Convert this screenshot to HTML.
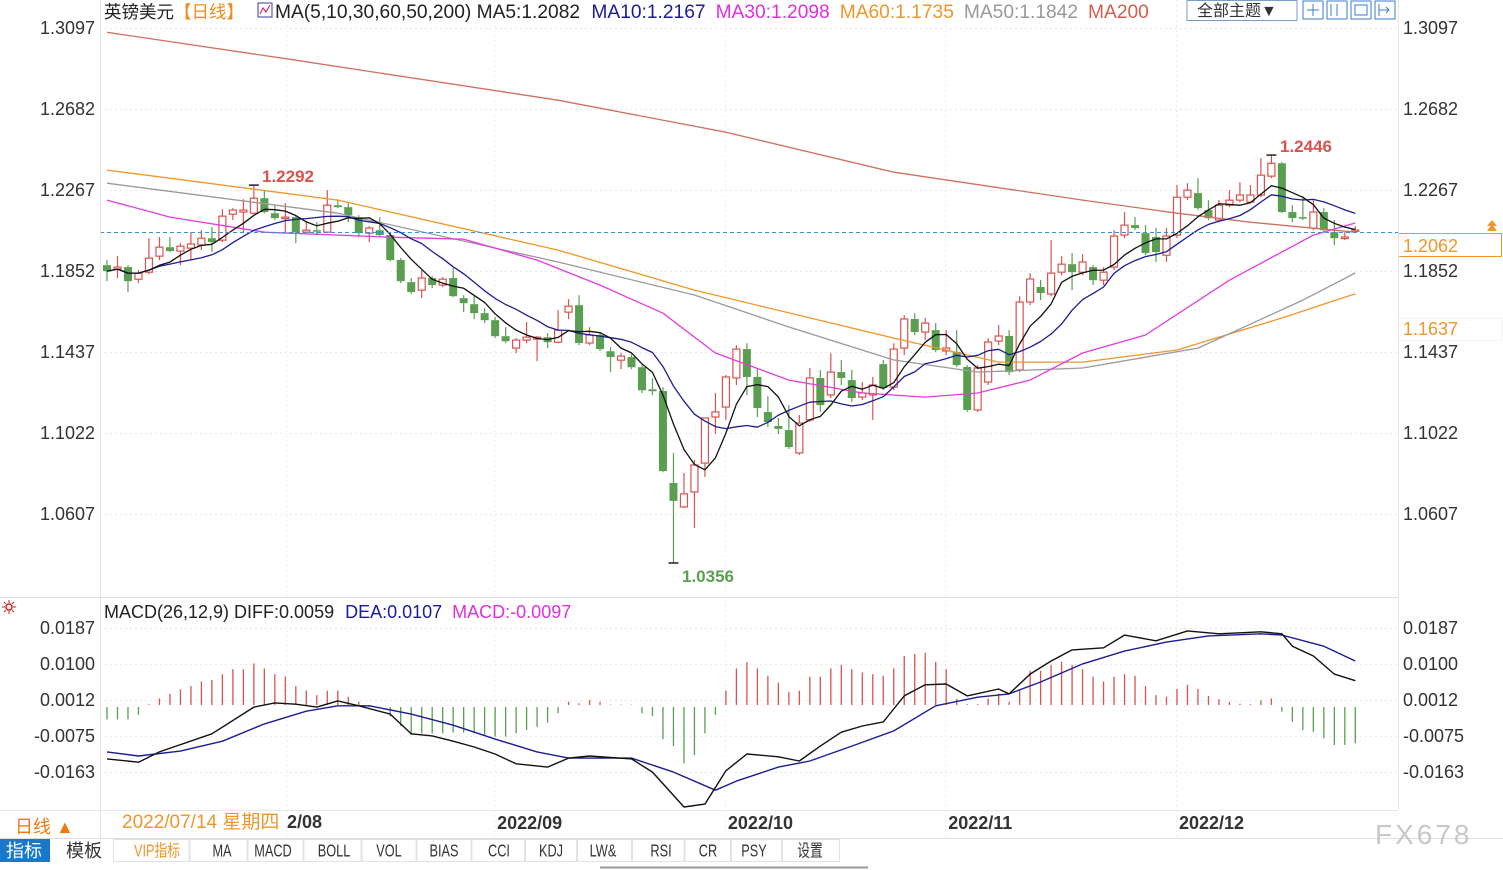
<!DOCTYPE html>
<html><head><meta charset="utf-8">
<style>
html,body{margin:0;padding:0;background:#fff;width:1503px;height:870px;overflow:hidden;}
body{font-family:"Liberation Sans","Noto Sans CJK SC",sans-serif;}
svg text{font-family:"Liberation Sans","Noto Sans CJK SC",sans-serif;}
</style></head>
<body>
<svg id="chart" width="1503" height="870" viewBox="0 0 1503 870" xmlns="http://www.w3.org/2000/svg">
  <g id="grid"></g>
  <g id="candles"></g>
  <g id="malines"></g>
  <g id="macd"></g>
  <g id="axes"></g>

  <!-- header -->
  <text x="104" y="18" font-size="17.5" fill="#222">英镑美元<tspan fill="#f08a1c">【日线】</tspan></text>
  <rect x="258" y="3" width="14" height="14" fill="#fff" stroke="#3a3aa0"/>
  <polyline points="260,14 263,8 266,12 270,5" fill="none" stroke="#d0306a" stroke-width="1.2"/>
  <text x="275" y="18" font-size="19.2" fill="#222">MA(5,10,30,60,50,200) MA5:1.2082 <tspan dx="6" fill="#1c1c96">MA10:1.2167</tspan><tspan dx="10" fill="#e030e0">MA30:1.2098</tspan><tspan dx="10" fill="#f0962a">MA60:1.1735</tspan><tspan dx="10" fill="#999">MA50:1.1842</tspan><tspan dx="10" fill="#d06050">MA200</tspan></text>

  <rect x="1187" y="0.5" width="110" height="20" fill="#fff" stroke="#7a9cc8"/>
  <text x="1197" y="16" font-size="16" fill="#333">全部主题▼</text>
  <g>
    <rect x="1303" y="1" width="20" height="18" fill="#fff" stroke="#3a7cc8"/>
    <rect x="1327" y="1" width="20" height="18" fill="#fff" stroke="#3a7cc8"/>
    <rect x="1351" y="1" width="20" height="18" fill="#fff" stroke="#3a7cc8"/>
    <rect x="1375" y="1" width="20" height="18" fill="#fff" stroke="#3a7cc8"/>
    <path d="M1307 10h12M1313 4v12M1331 4v12M1337 4v12M1355 5h12v10h-12zM1379 10h10M1386 7l3 3-3 3M1379 4v12" stroke="#3a7cc8" fill="none"/>
  </g>

  <!-- last price tag -->
  <line x1="100" y1="232.5" x2="1398" y2="232.5" stroke="#3c8fd0" stroke-dasharray="4,3"/>
  <rect x="1398.5" y="233.5" width="103" height="23" fill="#fff" stroke="#f0962a"/>
  <text x="1403" y="252" font-size="18" fill="#f0962a">1.2062</text>
  <path d="M1487 231l5-7 5 7zM1487 226l5-6 5 6z" fill="#f0962a"/>
  <rect x="1398.5" y="318.5" width="103" height="22" fill="#fff" stroke="#f3f3f3"/>
  <text x="1403" y="335" font-size="18" fill="#f0962a">1.1637</text>

  <!-- extremes -->
  <text x="262" y="182" font-size="17" font-weight="bold" fill="#d9534f">1.2292</text>
  <text x="1280" y="152" font-size="17" font-weight="bold" fill="#d9534f">1.2446</text>
  <text x="682" y="582" font-size="17" font-weight="bold" fill="#5aa050">1.0356</text>

  <!-- macd header -->
  <line x1="0" y1="597.5" x2="1398" y2="597.5" stroke="#e0e0e0"/>
  <g>
    <circle cx="9" cy="607" r="3" fill="none" stroke="#d02020" stroke-width="1.5"/>
    <path d="M9 600v3M9 611v3M2 607h3M13 607h3M4 602l2 2M12 610l2 2M4 612l2-2M12 604l2-2" stroke="#d02020"/>
  </g>
  <text x="104" y="618" font-size="18" fill="#222">MACD(26,12,9) DIFF:0.0059 <tspan dx="6" fill="#1c1c96">DEA:0.0107</tspan><tspan dx="10" fill="#e030e0">MACD:-0.0097</tspan></text>

  <!-- bottom axis and toolbar -->
  <line x1="0" y1="810.5" x2="1398" y2="810.5" stroke="#e6e6e6"/>
  <line x1="100.5" y1="0" x2="100.5" y2="838" stroke="#e6e6e6"/>
  <line x1="1398.5" y1="0" x2="1398.5" y2="810" stroke="#e6e6e6"/>
  <text x="15" y="833" font-size="18" fill="#f07a10">日线 ▲</text>
  <text x="122" y="828" font-size="19" fill="#f0962a">2022/07/14 星期四</text>
  <text x="287" y="828" font-size="18" font-weight="bold" fill="#333">2/08</text>
  <g id="monthlabels"></g>
  <line x1="0" y1="838.5" x2="1503" y2="838.5" stroke="#ddd"/>
  <rect x="0" y="839" width="50" height="23" fill="#1b78c9"/>
  <text x="6" y="857" font-size="18" fill="#fff">指标</text>
  <text x="66" y="857" font-size="18" fill="#333">模板</text>
  <g id="tabs"></g>
  <line x1="600" y1="867.5" x2="868" y2="867.5" stroke="#999" stroke-width="2"/>
  <text x="1375" y="844" font-size="28" fill="#c8c8c8" letter-spacing="3">FX678</text>
</svg>
<script>
// ---- price data (OHLC) ----
const opens=[1.1882,1.1862,1.1872,1.1810,1.1846,1.1928,1.1974,1.1954,1.1969,1.1985,1.2020,1.2010,1.2143,1.2154,1.2148,1.2225,1.2148,1.2123,1.2128,1.2051,1.2061,1.2051,1.2189,1.2179,1.2128,1.2046,1.2061,1.2036,1.1908,1.1795,1.1754,1.1816,1.1780,1.1816,1.1713,1.1682,1.1636,1.1600,1.1518,1.1457,1.1498,1.1503,1.1513,1.1487,1.1641,1.1677,1.1483,1.1524,1.1441,1.1395,1.1411,1.1359,1.1246,1.1237,1.0766,1.0643,1.0720,1.0868,1.1104,1.1155,1.1304,1.1452,1.1309,1.1130,1.1058,1.1037,1.0920,1.1089,1.1304,1.1217,1.1334,1.1293,1.1206,1.1217,1.1375,1.1257,1.1457,1.1606,1.1539,1.1549,1.1442,1.1437,1.1360,1.1140,1.1283,1.1493,1.1519,1.1345,1.1693,1.1770,1.1734,1.1846,1.1887,1.1846,1.1872,1.1805,1.1872,1.2036,1.2087,1.2046,1.2026,1.1933,1.2036,1.2230,1.2251,1.2164,1.2113,1.2189,1.2215,1.2205,1.2241,1.2338,1.2404,1.2154,1.2128,1.2072,1.2154,1.2051,1.2020,1.2056];
const highs=[1.1908,1.1928,1.1882,1.1857,1.2020,1.2026,1.2026,1.1995,1.2051,1.2061,1.2077,1.2169,1.2174,1.2220,1.2292,1.2266,1.2189,1.2200,1.2138,1.2102,1.2102,1.2266,1.2220,1.2200,1.2138,1.2082,1.2128,1.2051,1.1918,1.1816,1.1857,1.1826,1.1821,1.1867,1.1728,1.1728,1.1662,1.1616,1.1564,1.1508,1.1590,1.1518,1.1533,1.1651,1.1708,1.1728,1.1564,1.1534,1.1462,1.1431,1.1426,1.1369,1.1303,1.1257,1.0920,1.0817,1.0884,1.1099,1.1227,1.1319,1.1472,1.1482,1.1355,1.1211,1.1099,1.1165,1.1114,1.1355,1.1345,1.1431,1.1396,1.1345,1.1283,1.1309,1.1396,1.1482,1.1626,1.1636,1.1611,1.1585,1.1549,1.1549,1.1370,1.1370,1.1508,1.1575,1.1549,1.1723,1.1841,1.1806,1.2010,1.1928,1.1944,1.1938,1.1882,1.1872,1.2061,1.2154,1.2128,1.2087,1.2072,1.2072,1.2292,1.2302,1.2328,1.2215,1.2215,1.2266,1.2307,1.2292,1.2430,1.2446,1.2410,1.2189,1.2235,1.2215,1.2174,1.2113,1.2051,1.2082];
const lows=[1.1800,1.1816,1.1744,1.1790,1.1836,1.1908,1.1949,1.1882,1.1908,1.1959,1.1949,1.2000,1.2113,1.2046,1.2143,1.2148,1.2113,1.2051,1.1995,1.2046,1.2036,1.2046,1.2174,1.2102,1.2025,1.2000,1.2025,1.1902,1.1790,1.1734,1.1713,1.1764,1.1769,1.1718,1.1641,1.1605,1.1585,1.1508,1.1482,1.1431,1.1482,1.1390,1.1457,1.1482,1.1605,1.1472,1.1472,1.1441,1.1334,1.1349,1.1349,1.1226,1.1216,1.0821,1.0356,1.0638,1.0536,1.0797,1.1017,1.1089,1.1268,1.1216,1.1104,1.1053,1.1017,1.0940,1.0909,1.1078,1.1130,1.1201,1.1268,1.1181,1.1191,1.1089,1.1242,1.1242,1.1421,1.1524,1.1498,1.1437,1.1421,1.1360,1.1130,1.1130,1.1268,1.1472,1.1319,1.1334,1.1677,1.1703,1.1723,1.1831,1.1754,1.1831,1.1780,1.1780,1.1857,1.2020,1.2061,1.1933,1.1898,1.1898,1.2020,1.2215,1.2164,1.2113,1.2102,1.2179,1.2205,1.2200,1.2230,1.2328,1.2149,1.2102,1.2113,1.2061,1.2051,1.1985,1.2010,1.2046];
const closes=[1.1851,1.1872,1.1800,1.1841,1.1918,1.1974,1.1954,1.1979,1.1990,1.2020,1.2000,1.2133,1.2164,1.2164,1.2225,1.2154,1.2123,1.2128,1.2051,1.2061,1.2056,1.2189,1.2179,1.2138,1.2046,1.2072,1.2036,1.1908,1.1800,1.1744,1.1816,1.1780,1.1810,1.1723,1.1687,1.1636,1.1600,1.1518,1.1492,1.1498,1.1513,1.1513,1.1487,1.1549,1.1672,1.1483,1.1524,1.1452,1.1411,1.1416,1.1359,1.1241,1.1236,1.0827,1.0674,1.0710,1.0858,1.1099,1.1130,1.1309,1.1452,1.1309,1.1150,1.1078,1.1043,1.0950,1.1073,1.1304,1.1165,1.1334,1.1304,1.1201,1.1227,1.1268,1.1252,1.1452,1.1606,1.1539,1.1585,1.1447,1.1457,1.1370,1.1140,1.1355,1.1488,1.1519,1.1334,1.1693,1.1811,1.1739,1.1841,1.1887,1.1846,1.1898,1.1805,1.1846,1.2031,1.2087,1.2072,1.1944,1.1949,1.2031,1.2230,1.2266,1.2174,1.2123,1.2189,1.2215,1.2241,1.2241,1.2343,1.2404,1.2154,1.2123,1.2123,1.2154,1.2061,1.2020,1.2026,1.2062];

// ---- long moving averages (read at sample candles) ----
const ma30Idx=[0,6,15,27,34,41,47,53,58,65,72,78,83,88,93,99,107,115,119];
const ma30Vals=[1.2215,1.2128,1.2051,1.2025,1.2015,1.1908,1.1780,1.1636,1.1432,1.1293,1.1227,1.1206,1.1227,1.1293,1.1432,1.1524,1.1805,1.2036,1.2098];
const ma60Idx=[0,22,43,56,75,85,93,102,112,119];
const ma60Vals=[1.2369,1.2215,1.1959,1.1754,1.1508,1.1385,1.1385,1.1447,1.1611,1.1735];
const ma50Idx=[0,22,43,56,65,75,83,93,104,114,119];
const ma50Vals=[1.2302,1.2148,1.1898,1.1729,1.1565,1.1396,1.1334,1.1355,1.1457,1.1703,1.1842];
const ma200Idx=[0,18,43,59,75,93,102,109,119];
const ma200Vals=[1.3075,1.2932,1.2727,1.2563,1.2358,1.2215,1.2148,1.2102,1.2051];

// ---- MACD ----
const macdHist=[-0.0035,-0.0035,-0.0035,-0.0024,0.0002,0.0016,0.0027,0.0038,0.0046,0.0057,0.0061,0.0075,0.0087,0.0087,0.0101,0.0089,0.0075,0.0069,0.0046,0.0035,0.0024,0.0035,0.0035,0.0020,0.0008,-0.0002,-0.0004,-0.0028,-0.0051,-0.0073,-0.0069,-0.0069,-0.0069,-0.0067,-0.0067,-0.0069,-0.0075,-0.0077,-0.0077,-0.0069,-0.0061,-0.0053,-0.0043,-0.0020,0.0008,0.0004,0.0012,0.0008,0.0001,0.0001,0.0001,-0.0020,-0.0027,-0.0083,-0.0100,-0.0142,-0.0122,-0.0069,-0.0024,0.0035,0.0089,0.0104,0.0089,0.0071,0.0054,0.0032,0.0035,0.0069,0.0069,0.0089,0.0097,0.0087,0.0079,0.0075,0.0071,0.0089,0.0119,0.0124,0.0127,0.0105,0.0087,0.0015,0.0002,0.0002,0.0016,0.0028,0.0008,0.0036,0.0083,0.0083,0.0097,0.0105,0.0097,0.0087,0.0069,0.0057,0.0069,0.0075,0.0071,0.0046,0.0024,0.0020,0.0039,0.0049,0.0039,0.0022,0.0014,0.0008,0.0003,0.0002,0.0011,0.0016,-0.0016,-0.0041,-0.0061,-0.0065,-0.0081,-0.0097,-0.0097,-0.0093];
const diffIdx=[0,3,5,10,14,16,18,20,22,24,27,29,31,33,35,37,39,42,44,46,50,52,55,57,59,61,64,66,68,70,72,74,76,78,80,82,85,86,88,90,92,95,97,100,103,106,110,112,113,115,117,119];
const diffVals=[-0.0131,-0.0139,-0.0114,-0.0070,-0.0005,0.0005,0.0002,-0.0005,0.0010,-0.0002,-0.0022,-0.0070,-0.0075,-0.0088,-0.0102,-0.0119,-0.0143,-0.0151,-0.0129,-0.0124,-0.0131,-0.0163,-0.0248,-0.0241,-0.0160,-0.0119,-0.0126,-0.0136,-0.0100,-0.0066,-0.0051,-0.0041,0.0022,0.0049,0.0051,0.0022,0.0039,0.0027,0.0075,0.0107,0.0134,0.0139,0.0170,0.0156,0.0180,0.0173,0.0178,0.0173,0.0143,0.0119,0.0075,0.0059];
const deaIdx=[0,3,7,11,15,19,22,25,29,33,37,41,44,50,54,58,60,64,67,71,75,79,83,86,89,93,97,101,105,110,112,116,119];
const deaVals=[-0.0114,-0.0124,-0.0112,-0.0088,-0.0046,-0.0015,-0.0002,-0.0002,-0.0022,-0.0049,-0.0083,-0.0114,-0.0129,-0.0129,-0.0163,-0.0207,-0.0185,-0.0151,-0.0136,-0.0100,-0.0063,-0.0002,0.0019,0.0027,0.0056,0.0100,0.0131,0.0153,0.0168,0.0173,0.0170,0.0143,0.0107];

// ---- axis ticks ----
const priceTicks=[1.3097,1.2682,1.2267,1.1852,1.1437,1.1022,1.0607];
const macdTicks=[0.0187,0.0100,0.0012,-0.0075,-0.0163];
const monthLabels=["2022/09","2022/10","2022/11","2022/12"];
const monthIdx=[37,59,80,102];
const tabLabels=["VIP指标","MA","MACD","BOLL","VOL","BIAS","CCI","KDJ","LW&","RSI","CR","PSY","设置"];
const tabCenters=[157,222,273,334,389,444,499,551,603,661,708,754,810];

const NS="http://www.w3.org/2000/svg";
function mk(tag,attrs,parent){const e=document.createElementNS(NS,tag);for(const k in attrs)e.setAttribute(k,attrs[k]);parent.appendChild(e);return e;}
const xs=i=>107+10.49*i;
const yp=p=>28+(1.3097-p)*1951.8;
const ym=v=>705-v*4114;

const grid=document.getElementById('grid');
priceTicks.forEach(function(t){
  const l=mk('line',{x1:100,x2:1398,y1:yp(t)+0.5,y2:yp(t)+0.5,stroke:'#e8e8e8','stroke-dasharray':'2,3'},grid);
  
  
});
macdTicks.forEach(function(t){
  const l=mk('line',{x1:100,x2:1398,y1:ym(t)+0.5,y2:ym(t)+0.5,stroke:'#e8e8e8','stroke-dasharray':'2,3'},grid);
  
  
});
[287].concat(monthIdx.map(function(i){return xs(i)-0.5;})).forEach(function(x){
  const l=mk('line',{x1:x,x2:x,y1:0,y2:838,stroke:'#ececec','stroke-dasharray':'2,3'},grid);
  
  
});

const axes=document.getElementById('axes');
priceTicks.forEach(function(t){
  const a=mk('text',{x:95,y:yp(t)+6,'font-size':18,fill:'#333','text-anchor':'end'},axes);
  a.textContent=t.toFixed(4);
  
  
  const b=mk('text',{x:1403,y:yp(t)+6,'font-size':18,fill:'#333'},axes);
  b.textContent=t.toFixed(4);
  
  
});
macdTicks.forEach(function(t){
  const a=mk('text',{x:95,y:ym(t)+6,'font-size':18,fill:'#333','text-anchor':'end'},axes);
  a.textContent=t.toFixed(4);
  
  
  const b=mk('text',{x:1403,y:ym(t)+6,'font-size':18,fill:'#333'},axes);
  b.textContent=t.toFixed(4);
  
  
});
const ml=document.getElementById('monthlabels');
monthLabels.forEach(function(s,k){
  const t=mk('text',{x:xs(monthIdx[k])+2,y:829,'font-size':18,'font-weight':'bold',fill:'#333'},ml);
  t.textContent=s;
  
  
});

// candles
const cg=document.getElementById('candles');
const UP='#d9534f', DN='#5a9e52';
closes.forEach(function(c,i){
  const o=opens[i],x=xs(i),up=c>=o,col=up?UP:DN;
  const g=mk('g',{},cg);
  
  
  const top=yp(Math.max(o,c)),bot=yp(Math.min(o,c));
  mk('line',{x1:x,x2:x,y1:yp(highs[i]),y2:top,stroke:col,'stroke-width':1.2},g);
  mk('line',{x1:x,x2:x,y1:bot,y2:yp(lows[i]),stroke:col,'stroke-width':1.2},g);
  const h=Math.max(bot-top,1.5);
  if(up) mk('rect',{x:x-3.5,y:top,width:7,height:h,fill:'#fff',stroke:col,'stroke-width':1.2},g);
  else mk('rect',{x:x-4,y:top,width:8,height:h,fill:col},g);
});
[[14,highs[14]],[111,highs[111]],[54,lows[54]]].forEach(function(m){
  const p=mk('path',{d:'M'+(xs(m[0])-5)+' '+yp(m[1])+'h10',stroke:'#222','stroke-width':1.5},cg);
  
  
});

// moving averages
function rolling(n){return closes.map(function(_,i){const s=closes.slice(Math.max(0,i-n+1),i+1);return s.reduce(function(a,b){return a+b;},0)/s.length;});}
const mlg=document.getElementById('malines');
function line(pts,color,name,w){
  const p=mk('polyline',{points:pts.map(function(q){return q[0].toFixed(1)+','+q[1].toFixed(1);}).join(' '),fill:'none',stroke:color,'stroke-width':w||1.3,'stroke-linejoin':'round'},mlg);
  
  
}
line(ma200Idx.map(function(i,k){return [xs(i),yp(ma200Vals[k])];}),'#d0705f','ma200-line');
line(ma60Idx.map(function(i,k){return [xs(i),yp(ma60Vals[k])];}),'#f0962a','ma60-line');
line(ma50Idx.map(function(i,k){return [xs(i),yp(ma50Vals[k])];}),'#9a9a9a','ma50-line');
line(ma30Idx.map(function(i,k){return [xs(i),yp(ma30Vals[k])];}),'#e23ce2','ma30-line');
line(rolling(10).map(function(v,i){return [xs(i),yp(v)];}),'#1c1c96','ma10-line');
line(rolling(5).map(function(v,i){return [xs(i),yp(v)];}),'#111','ma5-line');

// MACD
const mg=document.getElementById('macd');
macdHist.forEach(function(v,i){
  const b=mk('line',{x1:xs(i),x2:xs(i),y1:ym(0)+(v<0?2:0),y2:ym(v),stroke:v>=0?UP:DN,'stroke-width':1.3},mg);
  
  
});
function mline(idx,vals,color,name){
  const p=mk('polyline',{points:idx.map(function(i,k){return xs(i).toFixed(1)+','+ym(vals[k]).toFixed(1);}).join(' '),fill:'none',stroke:color,'stroke-width':1.4,'stroke-linejoin':'round'},mg);
  
  
}
mline(deaIdx,deaVals,'#1c1c96','dea-line');
mline(diffIdx,diffVals,'#111','diff-line');

// tabs
const tg=document.getElementById('tabs');
tabLabels.forEach(function(s,k){
  const left=k===0?113:(tabCenters[k-1]+tabCenters[k])/2;
  const right=k===tabLabels.length-1?840:(tabCenters[k]+tabCenters[k+1])/2;
  const r=mk('rect',{x:left+0.5,y:839.5,width:right-left-1,height:22,fill:'#fff',stroke:'#e2e2e2'},tg);
  
  
  const cx=tabCenters[k];
  const t=mk('text',{x:cx,y:745,'font-size':15,'text-anchor':'middle',fill:k===0?'#f0962a':'#333','font-family':'"Liberation Serif","Noto Serif CJK SC",serif',transform:'translate('+cx+',0) scale(0.85,1.15) translate('+(-cx)+',0)'},tg);
  t.textContent=s;
  
  
});
</script>
</body></html>
